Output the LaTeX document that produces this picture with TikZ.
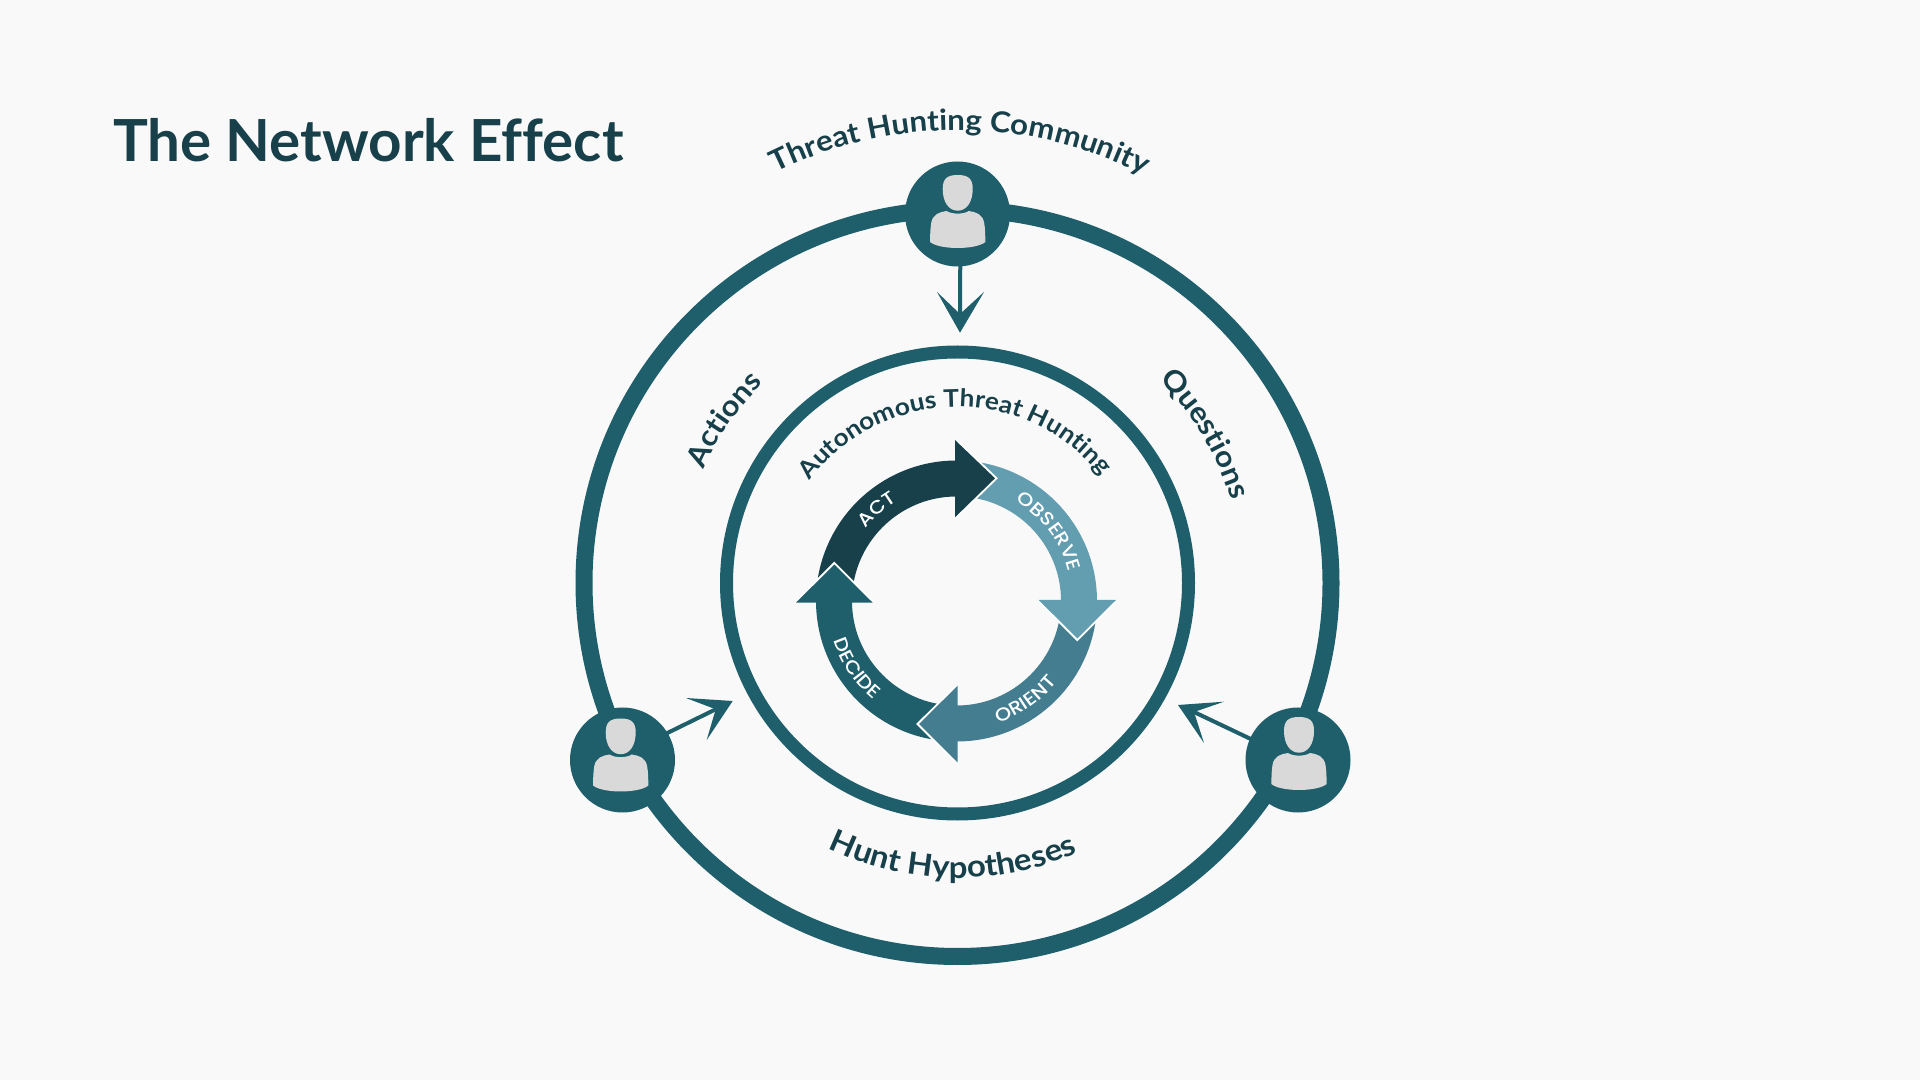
\documentclass[tikz,border=0pt]{standalone}
\usepackage{fontspec}
\usetikzlibrary{decorations.text}
\setmainfont{Lato}
\newfontfamily\headfont[FakeStretch=1.08]{Lato}
\newfontfamily\titlefont[FakeStretch=1.005,Ligatures=NoCommon]{Lato}
\newfontfamily\labfont[FakeStretch=1.12]{Poppins Medium}
\definecolor{bgc}{HTML}{F9F9F9}
\definecolor{ringc}{HTML}{1E5F6B}
\definecolor{darkc}{HTML}{17404A}
\definecolor{obsc}{HTML}{629DB0}
\definecolor{oric}{HTML}{437D8F}
\definecolor{persc}{HTML}{D9D9D9}
\tikzset{
  x=1pt,y=1pt,
  ringline/.style={draw=ringc},
  userdisc/.style={circle,fill=ringc,minimum size=105pt,inner sep=0pt},
  linkline/.style={draw=ringc,line width=4pt,shorten <=-2pt},
  linkhead/.style={fill=ringc,draw=none},
  bandarc/.style={line width=36pt},
  headwhite/.style={draw=white,line width=4pt,line join=miter,miter limit=10},
  curvedlab/.style={decorate,decoration={text along path,text align=center,text color=darkc,text={#1}}},
  whitelab/.style={decorate,decoration={text along path,text align=center,text color=white,text={#1}}},
  pics/usericon/.style={code={
    \fill[persc] (-15,22) .. controls (-15,32) and (-11,36) .. (0,36)
       .. controls (11,36) and (15,32) .. (15,22)
       .. controls (15,9) and (9,0.3) .. (0,0.3)
       .. controls (-9,0.3) and (-15,9) .. (-15,22) -- cycle;
    \fill[persc] (-27.7,-31) .. controls (-27.5,-24) and (-27.5,-18) .. (-26.5,-12)
       .. controls (-25,-3) and (-18,-1) .. (-11,0)
       .. controls (-6,-3.5) and (6,-3.5) .. (11,0)
       .. controls (18,-1) and (25,-3) .. (26.5,-12)
       .. controls (27.5,-18) and (27.5,-24) .. (27.7,-31)
       .. controls (18,-39) and (-18,-39) .. (-27.7,-31) -- cycle;
  }}
}
\newcommand{\labsize}{\labfont\fontsize{18.5}{19}\selectfont}
\newcommand{\headsize}{\headfont\bfseries\fontsize{28.9}{29}\selectfont}
\newcommand{\sidesize}{\headfont\bfseries\fontsize{29}{29}\selectfont}
\newcommand{\hyposize}{\headfont\bfseries\fontsize{30.5}{30}\selectfont}
\newcommand{\innersize}{\headfont\bfseries\fontsize{24.3}{25}\selectfont}
\begin{document}
\begin{tikzpicture}
\useasboundingbox[fill=bgc] (0,0) rectangle (1920,1080);
\coordinate (rc) at (957.5,497);
\coordinate (cc) at (956.5,479);
\coordinate (tc) at (957.5,543);
\coordinate (ic) at (957.5,489);
% rings
\draw[ringline,line width=17pt] (rc) circle[radius=373.5pt];
\draw[ringline,line width=13pt] (rc) circle[radius=231pt];
% title
\node[anchor=base west,inner sep=0pt,text=darkc,font=\titlefont\bfseries\fontsize{58}{58}\selectfont] (title) at (113,918) {The Network Effect};
% user discs
\node[userdisc] (utop) at (957.5,866) {};
\node[userdisc] (uleft) at (622.5,320) {};
\node[userdisc] (uright) at (1298,320) {};
\pic at (957.7,869) {usericon};
\pic at (620.7,325.5) {usericon};
\pic at (1299,327) {usericon};
% links
\coordinate (ttop) at (960,747.3);
\coordinate (ntop) at (960,766);
\coordinate (tleft) at (732.7,379);
\coordinate (nleft) at (715.7,370.7);
\coordinate (tright) at (1178,375);
\coordinate (nright) at (1194,368);
\draw[linkline] (utop.-87) -- (ntop);
\draw[linkline] (uleft.31.5) -- (nleft);
\draw[linkline] (uright.156) -- (nright);
\fill[linkhead] (ttop) -- (937,788) -- (ntop) -- (984,788) -- cycle;
\fill[linkhead] (tleft) -- (686,382) -- (nleft) -- (706.7,340) -- cycle;
\fill[linkhead] (tright) -- (1224,378.3) -- (nright) -- (1204,337) -- cycle;
% cycle bands
\draw[bandarc,draw=darkc] (cc) ++(180:122.5pt) arc[start angle=180,end angle=90,radius=122.5pt];
\draw[bandarc,draw=obsc] (cc) ++(90:122.5pt) arc[start angle=90,end angle=0,radius=122.5pt];
\draw[bandarc,draw=oric] (cc) ++(0:122.5pt) arc[start angle=0,end angle=-90,radius=122.5pt];
\draw[bandarc,draw=ringc] (cc) ++(-90:122.5pt) arc[start angle=-90,end angle=-180,radius=122.5pt];
% arrow heads (act)
\draw[headwhite] (955,640) -- (995,601.7) -- (955,562.7);
\fill[darkc] (955,640) -- (995,601.7) -- (955,562.7) -- cycle;
% observe
\draw[headwhite] (1038.7,480) -- (1077.3,441.5) -- (1116,480);
\fill[obsc] (1038.7,480) -- (1077.3,441.5) -- (1116,480) -- cycle;
% orient
\draw[headwhite] (957.7,394.3) -- (919,356) -- (957.7,317.3);
\fill[oric] (957.7,394.3) -- (919,356) -- (957.7,317.3) -- cycle;
% decide
\draw[headwhite] (796,477.3) -- (834.3,515.5) -- (872.7,477.3);
\fill[ringc] (796,477.3) -- (834.3,515.5) -- (872.7,477.3) -- cycle;
% cycle labels
\path[whitelab={|\labsize|ACT}] (cc) ++(181:116pt) arc[start angle=181,end angle=81,radius=116pt];
\path[whitelab={|\labsize|OBSERVE}] (cc) ++(97:116pt) arc[start angle=97,end angle=-23,radius=116pt];
\path[whitelab={|\labsize|ORIENT}] (cc) ++(245:129pt) arc[start angle=245,end angle=365,radius=129pt];
\path[whitelab={|\labsize|DECIDE}] (cc) ++(154:129pt) arc[start angle=154,end angle=274,radius=129pt];
% ring labels
\path[curvedlab={|\headsize|Threat Hunting Community}] (tc) ++(130.65:407pt) arc[start angle=130.65,end angle=48.65,radius=407pt];
\path[curvedlab={|\innersize|Autonomous Threat Hunting}] (ic) ++(171:184pt) arc[start angle=171,end angle=11,radius=184pt];
\path[curvedlab={|\sidesize|Actions}] (rc) ++(185:278.5pt) arc[start angle=185,end angle=105,radius=278.5pt];
\path[curvedlab={|\sidesize|Questions}] (rc) ++(71:286pt) arc[start angle=71,end angle=-9,radius=286pt];
\path[curvedlab={|\hyposize|Hunt Hypotheses}] (rc) ++(229:295pt) arc[start angle=229,end angle=309,radius=295pt];
\end{tikzpicture}
\end{document}
